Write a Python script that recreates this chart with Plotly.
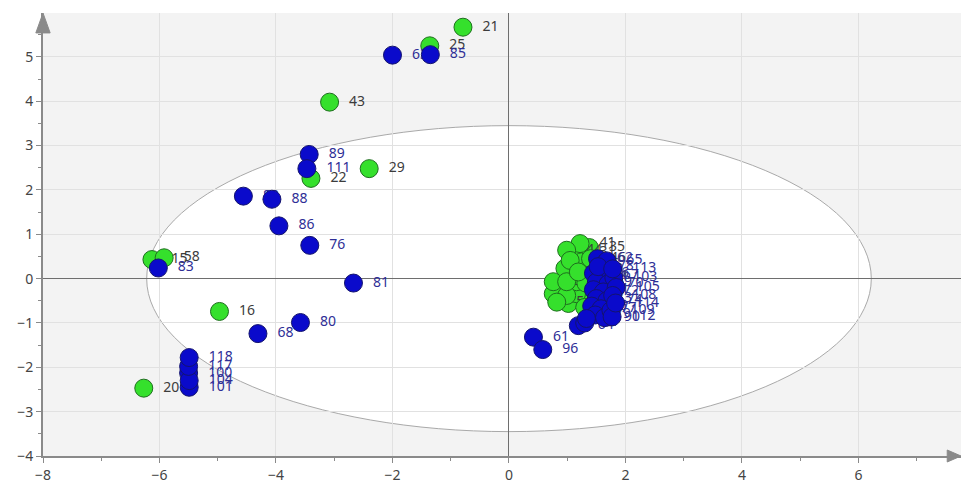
import plotly.graph_objects as go

# Score plot: sample IDs, first and second component scores per class
green_ids = [21, 25, 43, 29, 22, 15, 58, 16, 20,
             41, 44, 31, 47, 33, 36, 52, 38, 48, 12, 5, 27, 9, 54, 3,
             35, 46, 39, 50, 7, 57, 11]
green_x = [-0.79, -1.36, -3.08, -2.40, -3.40, -6.13, -5.92, -4.97, -6.27,
           1.22, 0.99, 1.22, 1.05, 1.25, 0.96, 1.19, 0.76, 0.99, 1.16, 0.76, 0.99, 1.16, 0.82, 1.02,
           1.38, 1.40, 1.35, 1.32, 1.35, 1.30, 1.45]
green_y = [5.67, 5.25, 3.98, 2.48, 2.26, 0.43, 0.47, -0.74, -2.47,
           0.79, 0.64, 0.60, 0.41, 0.38, 0.23, 0.15, -0.07, -0.07, -0.07, -0.34, -0.38, -0.34, -0.53, -0.56,
           0.70, 0.45, 0.20, -0.10, -0.40, -0.65, 0.05]

blue_ids = [63, 85, 89, 111, 82, 88, 86, 76, 81, 80, 68, 83,
            118, 117, 100, 104, 101, 61, 96,
            62, 65, 78, 113, 66, 67, 103, 69, 70, 105, 71, 72, 108, 73, 74, 114,
            75, 77, 109, 79, 90, 112, 91, 64, 87]
blue_x = [-2.00, -1.35, -3.43, -3.47, -4.56, -4.07, -3.95, -3.42, -2.67, -3.58, -4.31, -6.02,
          -5.49, -5.50, -5.50, -5.49, -5.49, 0.42, 0.58,
          1.52, 1.68, 1.53, 1.78, 1.45, 1.62, 1.80, 1.50, 1.70, 1.84, 1.45, 1.62, 1.78, 1.50, 1.68, 1.83,
          1.42, 1.58, 1.75, 1.48, 1.64, 1.77, 1.33, 1.19, 1.30]
blue_y = [5.04, 5.05, 2.80, 2.48, 1.86, 1.79, 1.19, 0.75, -0.10, -0.99, -1.24, 0.24,
          -1.78, -1.98, -2.13, -2.30, -2.45, -1.32, -1.60,
          0.45, 0.40, 0.27, 0.22, 0.12, 0.08, 0.02, -0.08, -0.12, -0.20, -0.25, -0.30, -0.38, -0.45, -0.50, -0.55,
          -0.62, -0.68, -0.72, -0.82, -0.88, -0.86, -0.90, -1.06, -1.00]

# Confidence ellipse semi-axes (centred on the origin)
ellipse_a = 6.22
ellipse_b = 3.45

GREEN_FILL, GREEN_LINE, GREEN_TEXT = "#35e02c", "#1e6e1e", "#3c3c3c"
BLUE_FILL, BLUE_LINE, BLUE_TEXT = "#0a0acb", "#14146e", "#2e2e96"
FONT = "Noto Sans"
LABEL_PAD = "\u00a0\u00a0"  # keeps the ID a little clear of its marker

points = [(i, x, y, "g") for i, x, y in zip(green_ids, green_x, green_y)] + \
         [(i, x, y, "b") for i, x, y in zip(blue_ids, blue_x, blue_y)]
points.sort(key=lambda p: p[0])

fig = go.Figure()
for pid, x, y, cls in points:
    fill, line, tcol = (GREEN_FILL, GREEN_LINE, GREEN_TEXT) if cls == "g" else (BLUE_FILL, BLUE_LINE, BLUE_TEXT)
    fig.add_trace(go.Scatter(
        x=[x], y=[y], mode="markers+text", text=[LABEL_PAD + str(pid)],
        textposition="middle right",
        textfont=dict(family=FONT, size=14, color=tcol),
        marker=dict(size=18, color=fill, line=dict(color=line, width=1)),
        showlegend=False, hoverinfo="skip", cliponaxis=False,
    ))

axis_grey = "#8a8a8a"
fig.update_layout(
    width=963, height=486,
    margin=dict(l=43, r=2, t=13, b=28),
    paper_bgcolor="#ffffff",
    plot_bgcolor="#f3f3f3",
    xaxis=dict(
        range=[-8, 7.76], tick0=-8, dtick=2,
        showgrid=True, gridcolor="#e1e1e1", gridwidth=1,
        zeroline=True, zerolinecolor="#6e6e6e", zerolinewidth=1,
        showline=True, linecolor=axis_grey, linewidth=2,
        ticks="outside", ticklen=5, tickcolor=axis_grey,
        minor=dict(dtick=1, ticks="outside", ticklen=3, tickcolor=axis_grey, showgrid=False),
        tickfont=dict(family=FONT, size=14, color="#444444"),
    ),
    yaxis=dict(
        range=[-4, 5.99], tick0=0, dtick=1,
        showgrid=True, gridcolor="#e1e1e1", gridwidth=1,
        zeroline=True, zerolinecolor="#6e6e6e", zerolinewidth=1,
        showline=True, linecolor=axis_grey, linewidth=2,
        ticks="outside", ticklen=5, tickcolor=axis_grey,
        minor=dict(dtick=0.5, ticks="outside", ticklen=3, tickcolor=axis_grey, showgrid=False),
        tickfont=dict(family=FONT, size=14, color="#444444"),
    ),
    shapes=[
        dict(type="circle", xref="x", yref="y",
             x0=-ellipse_a, x1=ellipse_a, y0=-ellipse_b, y1=ellipse_b,
             fillcolor="#ffffff", line=dict(color="#a9a9a9", width=1), layer="below"),
        # arrow heads at the ends of the axes
        dict(type="path", xref="paper", yref="paper",
             path="M 0 1.0 L -0.0078 0.955 L 0.0078 0.955 Z",
             fillcolor=axis_grey, line=dict(color=axis_grey, width=1)),
        dict(type="path", xref="paper", yref="paper",
             path="M 1.0 0 L 0.985 -0.0135 L 0.985 0.0135 Z",
             fillcolor=axis_grey, line=dict(color=axis_grey, width=1)),
    ],
)

fig.write_html("out.html")
